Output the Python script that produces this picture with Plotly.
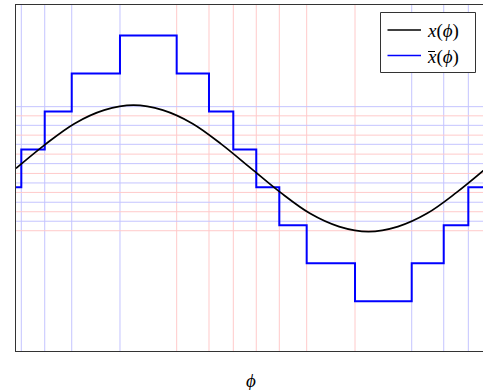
import plotly.graph_objects as go

# ---- data ----
# x(phi): sampled curve values at phi = k*pi/8, k = 0..16
phi_curve = [0.0, 0.3927, 0.7854, 1.1781, 1.5708, 1.9635, 2.3562, 2.7489, 3.1416,
             3.5343, 3.9270, 4.3197, 4.7124, 5.1051, 5.4978, 5.8905, 6.2832]
x_curve = [0.0, 0.38, 0.71, 0.92, 1.0, 0.92, 0.71, 0.38, 0.0,
           -0.38, -0.71, -0.92, -1.0, -0.92, -0.71, -0.38, 0.0]

# staircase xbar(phi): switching phases and held levels
switch_up_1 = [0.071, 0.384, 0.745, 1.390]                       # blue verticals (rising)
switch_down = [2.148, 2.580, 2.905, 3.212, 3.520, 3.886, 4.532]  # red verticals (falling)
switch_up_2 = [5.290, 5.718, 6.047]                              # blue verticals (rising)
xbar_levels = [-0.3, 0.3, 0.9, 1.5, 2.1, 1.5, 0.9, 0.3, -0.3,
               -0.9, -1.5, -2.1, -1.5, -0.9, -0.3]

# horizontal threshold lines
blue_levels = [0.975, 0.68, 0.38, 0.075, -0.23, -0.535, -0.835]
red_levels = [0.83, 0.525, 0.225, -0.08, -0.38, -0.685, -0.985]

legend_labels = ["<i>x</i>(<i>\u03d5</i>)", "<i>x</i>(<i>\u03d5</i>)"]
legend_colors = ["black", "#0000ff"]

phi_min, phi_max = 0.0, 6.2832
x_range = [0.0, 6.2431]
y_range = [-2.885, 2.581]

BLUE_GRID = "#c4c4ff"
RED_GRID = "#ffcaca"
SERIF = "Liberation Serif, DejaVu Serif, serif"

# layout geometry (pixels)
W, H = 483, 390
ML, MR, MT, MB = 16, 0, 5, 39
PW, PH = W - ML - MR, H - MT - MB


def px(xp):
    return (xp - ML) / PW


def py(yp):
    return 1 - (yp - MT) / PH


fig = go.Figure()

# grid/threshold lines
for v in switch_up_1 + switch_up_2:
    fig.add_shape(type="line", xref="x", yref="paper", x0=v, x1=v, y0=0, y1=1,
                  line=dict(color=BLUE_GRID, width=1), layer="below")
for v in switch_down:
    fig.add_shape(type="line", xref="x", yref="paper", x0=v, x1=v, y0=0, y1=1,
                  line=dict(color=RED_GRID, width=1), layer="below")
for v in blue_levels:
    fig.add_shape(type="line", xref="paper", yref="y", x0=0, x1=1, y0=v, y1=v,
                  line=dict(color=BLUE_GRID, width=1), layer="below")
for v in red_levels:
    fig.add_shape(type="line", xref="paper", yref="y", x0=0, x1=1, y0=v, y1=v,
                  line=dict(color=RED_GRID, width=1), layer="below")

# staircase
switches = switch_up_1 + switch_down + switch_up_2
step_x = [phi_min] + switches + [phi_max]
step_y = xbar_levels + [xbar_levels[-1]]
fig.add_trace(go.Scatter(x=step_x, y=step_y, mode="lines", line_shape="hv",
                         line=dict(color="#0000ff", width=2), showlegend=False))

# curve
fig.add_trace(go.Scatter(x=phi_curve, y=x_curve, mode="lines", line_shape="spline",
                         line=dict(color="black", width=1.7), showlegend=False))

# manual legend (box, line samples, labels)
fig.add_shape(type="rect", xref="paper", yref="paper",
              x0=px(380.5), x1=px(475.5), y0=py(12.5), y1=py(72.5),
              line=dict(color="#333", width=1), fillcolor="white", layer="above")
row_y = [30, 55.5]
for lbl, col, ry in zip(legend_labels, legend_colors, row_y):
    fig.add_shape(type="line", xref="paper", yref="paper",
                  x0=px(387.5), x1=px(421), y0=py(ry), y1=py(ry),
                  line=dict(color=col, width=1.7), layer="above")
    fig.add_annotation(text=lbl, xref="paper", yref="paper", x=px(425), y=py(ry + 1.5),
                       xanchor="left", yanchor="middle", showarrow=False,
                       font=dict(family=SERIF, size=19, color="black"))
# bar over the second label's x
fig.add_shape(type="line", xref="paper", yref="paper",
              x0=px(428), x1=px(435), y0=py(row_y[1] - 4), y1=py(row_y[1] - 4),
              line=dict(color="black", width=1), layer="above")

fig.update_xaxes(range=x_range, showgrid=False, zeroline=False, showticklabels=False,
                 ticks="", showline=True, mirror=True, linecolor="#333", linewidth=1)
fig.update_yaxes(range=y_range, showgrid=False, zeroline=False, showticklabels=False,
                 ticks="", showline=True, mirror=False, linecolor="#333", linewidth=1)

fig.add_annotation(text="<i>\u03d5</i>", xref="paper", yref="paper", x=px(251), y=py(380),
                   xanchor="center", yanchor="middle", showarrow=False,
                   font=dict(family=SERIF, size=19, color="black"))

fig.update_layout(
    width=W, height=H,
    margin=dict(l=ML, r=MR, t=MT, b=MB),
    plot_bgcolor="white", paper_bgcolor="white",
    showlegend=False,
)

fig.write_html("out.html")
